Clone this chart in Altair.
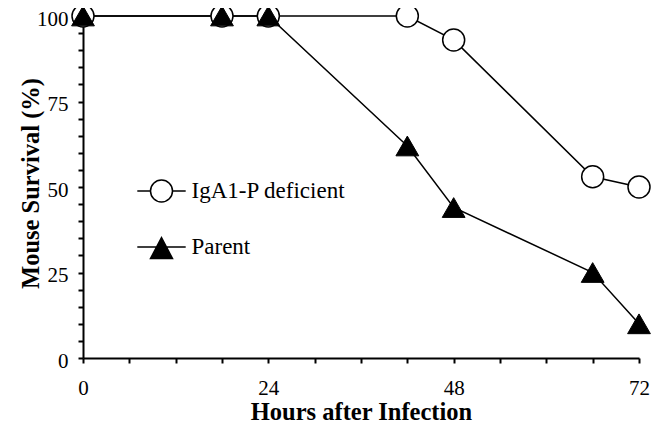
import altair as alt
import pandas as pd

hours = [0, 18, 24, 42, 48, 66, 72]
iga_deficient = [100, 100, 100, 100, 93, 53, 50]
parent = [100, 100, 100, 62, 44, 25, 10]
series_names = ["IgA1-P deficient", "Parent"]
x_ticks = list(range(0, 73, 6))
y_ticks = list(range(0, 101, 5))

df = pd.DataFrame({
    "hours": hours * 2,
    "survival": iga_deficient + parent,
    "series": [series_names[0]] * len(hours) + [series_names[1]] * len(hours),
})

FONT = "Liberation Serif"
PLOT_W = 556
PLOT_H = 342

x_enc = alt.X(
    "hours:Q",
    scale=alt.Scale(domain=[0, 72], nice=False, zero=False),
    axis=alt.Axis(
        values=x_ticks,
        labelExpr="datum.value % 24 === 0 ? datum.label : ''",
        labelFlush=False,
        title="Hours after Infection",
        labelPadding=14,
        titleX=PLOT_W / 2,
        titleY=61,
        titleBaseline="alphabetic",
        titleAlign="center",
    ),
)
y_enc = alt.Y(
    "survival:Q",
    scale=alt.Scale(domain=[0, 100], nice=False),
    axis=alt.Axis(
        values=y_ticks,
        labelExpr="datum.value % 25 === 0 ? datum.label : ''",
        labelFlush=False,
        labelOffset=3,
        title="Mouse Survival (%)",
        labelPadding=10,
        titleX=-45,
        titleY=167,
        titleAngle=270,
        titleBaseline="alphabetic",
        titleAlign="center",
    ),
)

circle_path = "M-2.2,0L-1,0M1,0L2.2,0M-1,0A1,1,0,1,1,1,0A1,1,0,1,1,-1,0Z"
tri_path = "M-2.2,0L2.2,0M0,-0.85L1,1.05L-1,1.05Z"

base = alt.Chart(df)

lines = base.mark_line(color="black", strokeWidth=1.5, clip=False).encode(
    x=x_enc, y=y_enc, detail="series:N"
)

circles = base.transform_filter(alt.datum.series == series_names[0]).mark_point(
    shape="circle", size=484, filled=True, fill="white", stroke="black",
    strokeWidth=1.5, opacity=1, clip=False
).encode(x=x_enc, y=y_enc)

triangles = base.transform_filter(alt.datum.series == series_names[1]).mark_point(
    shape="triangle-up", size=520, filled=True, fill="black", stroke="black",
    strokeWidth=1, opacity=1, clip=False
).encode(x=x_enc, y=y_enc)

legend_cfg = alt.Legend(
    title=None,
    orient="none",
    legendX=66.5,
    legendY=163,
    symbolSize=484,
    symbolStrokeColor="black",
    symbolStrokeWidth=1.5,
    labelFont=FONT,
    labelFontSize=23,
    labelColor="black",
    labelOffset=18,
    rowPadding=29,
    padding=0,
    labelLimit=400,
)

legend_layer = base.transform_filter("false").mark_point(
    filled=True, strokeWidth=1.5, opacity=1
).encode(
    x=x_enc,
    y=y_enc,
    shape=alt.Shape("series:N", scale=alt.Scale(domain=series_names, range=[circle_path, tri_path]), legend=legend_cfg),
    fill=alt.Fill("series:N", scale=alt.Scale(domain=series_names, range=["white", "black"]), legend=legend_cfg),
    stroke=alt.Stroke("series:N", scale=alt.Scale(domain=series_names, range=["black", "black"]), legend=legend_cfg),
)

chart = alt.layer(lines, circles, triangles, legend_layer).properties(
    width=PLOT_W,
    height=PLOT_H,
    padding={"left": 75, "top": 8, "right": 12, "bottom": 66},
    autosize=alt.AutoSizeParams(type="none"),
    background="white",
).configure_view(stroke=None).configure_axis(
    grid=False,
    domainColor="black",
    domainWidth=2,
    tickColor="black",
    tickWidth=2,
    tickSize=5,
    labelFont=FONT,
    labelFontSize=21,
    labelColor="black",
    titleFont=FONT,
    titleFontSize=24.5,
    titleFontWeight="bold",
    titleColor="black",
)

chart.save("out.html", embed_options={"renderer": "svg", "actions": False})
